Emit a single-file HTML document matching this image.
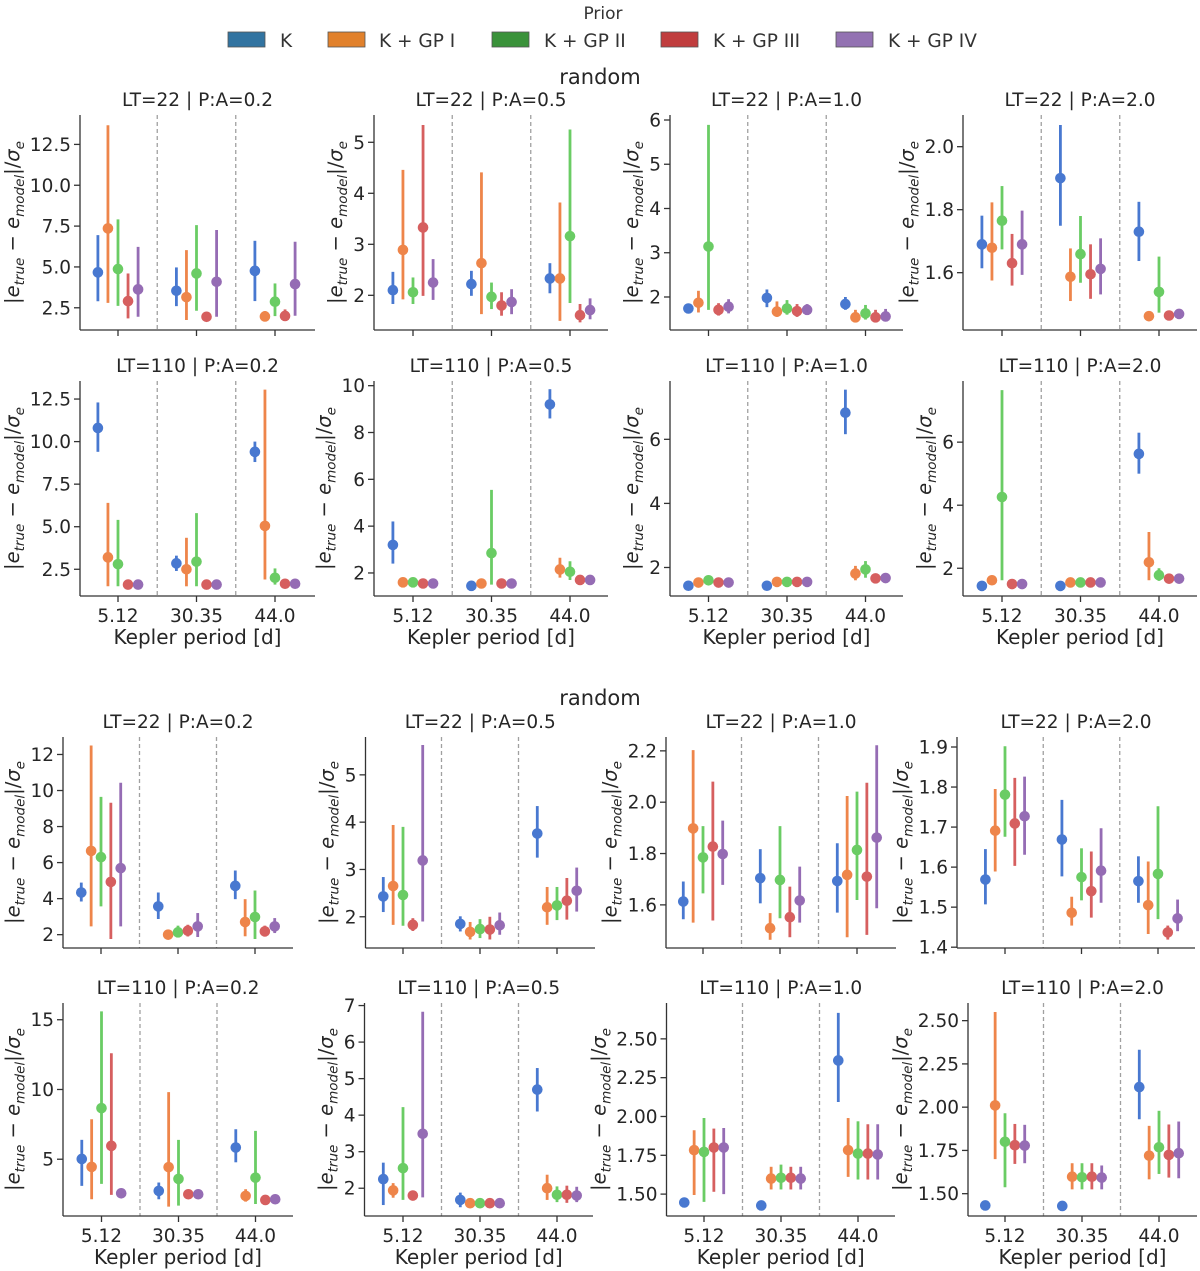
<!DOCTYPE html>
<html><head><meta charset="utf-8"><title>Eccentricity error by Kepler period</title>
<style>
html,body{margin:0;padding:0;background:#fff;}
svg{display:block;font-family:"DejaVu Sans","Liberation Sans",sans-serif;}
</style></head>
<body>
<svg id="fig" width="1200" height="1271" viewBox="0 0 1200 1271" xmlns="http://www.w3.org/2000/svg">
  <g>
    <text x="603" y="19" font-size="17" fill="#333" text-anchor="middle">Prior</text>
    <rect x="228" y="32" width="37" height="15" fill="#3274a1" stroke="#555" stroke-width="0.8"/>
    <text x="280" y="47" font-size="18.5" fill="#333">K</text>
    <rect x="328" y="32" width="37" height="15" fill="#e1812c" stroke="#555" stroke-width="0.8"/>
    <text x="379" y="47" font-size="18.5" fill="#333">K + GP I</text>
    <rect x="492" y="32" width="37" height="15" fill="#3a923a" stroke="#555" stroke-width="0.8"/>
    <text x="544" y="47" font-size="18.5" fill="#333">K + GP II</text>
    <rect x="661" y="32" width="37" height="15" fill="#c03d3e" stroke="#555" stroke-width="0.8"/>
    <text x="713" y="47" font-size="18.5" fill="#333">K + GP III</text>
    <rect x="836" y="32" width="37" height="15" fill="#9372b2" stroke="#555" stroke-width="0.8"/>
    <text x="888" y="47" font-size="18.5" fill="#333">K + GP IV</text>
  </g>
  <text x="600" y="84" font-size="21" fill="#262626" text-anchor="middle">random</text>
  <text x="600" y="705" font-size="21" fill="#262626" text-anchor="middle">random</text>
  <g id="plots"></g>
</svg>
<script>
// ---------- data (series order: K, K+GP I, K+GP II, K+GP III, K+GP IV; categories: 5.12, 30.35, 44.0) ----------
const categories = ["5.12", "30.35", "44.0"];
const seriesNames = ["K", "K + GP I", "K + GP II", "K + GP III", "K + GP IV"];

const a1_mean = [[4.67,3.54,4.76],[7.36,3.15,1.97],[4.87,4.6,2.87],[2.91,1.95,2.0],[3.63,4.09,3.95]];
const a1_lo   = [[2.9,2.6,2.91],[2.8,1.75,1.7],[2.62,2.32,1.99],[1.85,1.8,1.7],[1.95,1.95,2.01]];
const a1_hi   = [[6.95,4.97,6.6],[13.67,6.03,2.3],[7.91,7.56,3.99],[4.6,2.1,2.4],[6.23,7.26,6.54]];
const a1_ticks = [2.5,5,7.5,10,12.5];

const a2_mean = [[2.10,2.22,2.33],[2.89,2.63,2.33],[2.06,1.97,3.16],[3.33,1.80,1.61],[2.25,1.87,1.71]];
const a2_lo   = [[1.83,1.99,2.04],[1.92,1.63,1.5],[1.83,1.73,1.85],[1.99,1.6,1.47],[1.91,1.63,1.53]];
const a2_hi   = [[2.46,2.48,2.63],[4.46,4.41,3.82],[2.35,2.25,5.25],[5.34,2.06,1.83],[2.71,2.12,1.94]];
const a2_ticks = [2,3,4,5];

const a3_mean = [[1.74,1.98,1.84],[1.87,1.67,1.54],[3.14,1.74,1.63],[1.71,1.68,1.54],[1.78,1.71,1.56]];
const a3_lo   = [[1.66,1.77,1.71],[1.65,1.55,1.45],[1.71,1.6,1.49],[1.58,1.55,1.45],[1.63,1.6,1.45]];
const a3_hi   = [[1.85,2.17,2.0],[2.14,1.9,1.71],[5.89,1.93,1.82],[1.86,1.84,1.71],[1.95,1.84,1.73]];
const a3_ticks = [2,3,4,5,6];

const a4_mean = [[1.69,1.9,1.73],[1.679,1.587,1.462],[1.765,1.659,1.539],[1.63,1.595,1.464],[1.69,1.612,1.469]];
const a4_lo   = [[1.614,1.749,1.637],[1.575,1.51,1.45],[1.674,1.568,1.473],[1.559,1.517,1.45],[1.593,1.531,1.455]];
const a4_hi   = [[1.781,2.069,1.825],[1.823,1.677,1.475],[1.875,1.78,1.651],[1.723,1.69,1.478],[1.797,1.709,1.484]];
const a4_ticks = [1.6,1.8,2.0];

const b1_mean = [[10.8,2.85,9.4],[3.2,2.5,5.05],[2.8,2.95,2.0],[1.6,1.6,1.65],[1.6,1.6,1.65]];
const b1_lo   = [[9.4,2.4,8.8],[1.5,1.5,1.9],[1.5,1.5,1.6],[1.55,1.55,1.6],[1.55,1.55,1.6]];
const b1_hi   = [[12.3,3.3,10.0],[6.4,4.35,13.05],[5.4,5.8,2.55],[1.65,1.65,1.7],[1.65,1.65,1.7]];
const b1_ticks = [2.5,5,7.5,10,12.5];

const b2_mean = [[3.2,1.45,9.2],[1.6,1.55,2.15],[1.6,2.85,2.05],[1.55,1.55,1.7],[1.55,1.55,1.7]];
const b2_lo   = [[2.4,1.4,8.6],[1.55,1.5,1.8],[1.55,1.5,1.7],[1.5,1.5,1.65],[1.5,1.5,1.65]];
const b2_hi   = [[4.2,1.5,9.85],[1.65,1.6,2.65],[1.65,5.55,2.5],[1.6,1.6,1.75],[1.6,1.6,1.75]];
const b2_ticks = [2,4,6,8,10];

const b3_mean = [[1.43,1.43,6.83],[1.53,1.55,1.81],[1.60,1.55,1.94],[1.53,1.55,1.66],[1.53,1.55,1.67]];
const b3_lo   = [[1.4,1.4,6.16],[1.48,1.5,1.6],[1.45,1.5,1.68],[1.48,1.5,1.62],[1.48,1.5,1.62]];
const b3_hi   = [[1.46,1.46,7.55],[1.58,1.6,2.05],[1.71,1.6,2.2],[1.58,1.6,1.7],[1.58,1.6,1.72]];
const b3_ticks = [2,4,6];

const b4_mean = [[1.44,1.44,5.63],[1.62,1.55,2.19],[4.26,1.55,1.78],[1.5,1.55,1.67],[1.5,1.55,1.67]];
const b4_lo   = [[1.4,1.4,5.0],[1.5,1.5,1.62],[1.62,1.5,1.6],[1.46,1.5,1.62],[1.46,1.5,1.62]];
const b4_hi   = [[1.48,1.48,6.3],[1.74,1.6,3.15],[7.65,1.6,2.0],[1.54,1.6,1.72],[1.54,1.6,1.72]];
const b4_ticks = [2,4,6];

const c1_mean = [[4.34,3.57,4.71],[6.65,2.0,2.7],[6.3,2.13,2.98],[4.93,2.22,2.18],[5.69,2.46,2.46]];
const c1_lo   = [[3.84,2.87,3.97],[2.46,1.76,1.91],[3.57,1.85,1.76],[1.76,1.9,1.9],[2.46,1.87,2.09]];
const c1_hi   = [[4.89,4.34,5.56],[12.5,2.28,3.97],[9.65,2.5,4.45],[9.32,2.55,2.5],[10.43,3.2,2.92]];
const c1_ticks = [2,4,6,8,10,12];

const c2_mean = [[2.43,1.85,3.76],[2.65,1.68,2.2],[2.46,1.74,2.24],[1.83,1.73,2.34],[3.19,1.82,2.55]];
const c2_lo   = [[2.1,1.69,3.25],[1.83,1.52,1.83],[1.81,1.55,1.93],[1.7,1.52,1.94],[1.9,1.62,2.11]];
const c2_hi   = [[2.84,2.01,4.34],[3.94,1.89,2.63],[3.9,1.95,2.63],[1.97,2.0,2.82],[5.63,2.09,3.04]];
const c2_ticks = [2,3,4,5];

const c3_mean = [[1.613,1.704,1.693],[1.898,1.509,1.717],[1.785,1.697,1.814],[1.827,1.552,1.71],[1.798,1.617,1.862]];
const c3_lo   = [[1.544,1.606,1.57],[1.531,1.464,1.474],[1.645,1.548,1.619],[1.539,1.474,1.483],[1.678,1.531,1.587]];
const c3_hi   = [[1.691,1.817,1.84],[2.203,1.568,2.024],[1.907,1.907,2.041],[2.08,1.671,2.076],[1.928,1.749,2.222]];
const c3_ticks = [1.6,1.8,2.0,2.2];

const c4_mean = [[1.569,1.669,1.565],[1.691,1.486,1.505],[1.781,1.575,1.583],[1.709,1.54,1.437],[1.727,1.591,1.472]];
const c4_lo   = [[1.507,1.577,1.511],[1.589,1.454,1.433],[1.676,1.517,1.47],[1.603,1.474,1.419],[1.631,1.511,1.44]];
const c4_hi   = [[1.645,1.768,1.627],[1.795,1.526,1.614],[1.902,1.647,1.752],[1.823,1.639,1.454],[1.826,1.697,1.519]];
const c4_ticks = [1.4,1.5,1.6,1.7,1.8,1.9];

const d1_mean = [[5.02,2.73,5.84],[4.45,4.43,2.37],[8.66,3.59,3.68],[5.96,2.49,2.08],[2.56,2.49,2.13]];
const d1_lo   = [[3.09,2.13,4.78],[2.13,1.6,1.96],[3.23,1.67,1.79],[2.44,2.3,1.8],[2.4,2.3,1.9]];
const d1_hi   = [[6.39,3.33,7.15],[7.87,9.81,2.85],[15.6,6.39,7.03],[12.6,2.7,2.4],[2.7,2.7,2.4]];
const d1_ticks = [5,10,15];

const d2_mean = [[2.25,1.68,4.7],[1.94,1.59,2.0],[2.55,1.59,1.82],[1.8,1.59,1.82],[3.49,1.59,1.8]];
const d2_lo   = [[1.54,1.48,4.1],[1.74,1.54,1.68],[1.68,1.54,1.62],[1.68,1.54,1.6],[1.75,1.54,1.62]];
const d2_hi   = [[2.7,1.88,5.29],[2.14,1.64,2.37],[4.22,1.64,2.05],[1.92,1.64,2.07],[6.83,1.64,2.04]];
const d2_ticks = [2,3,4,5,6,7];

const d3_mean = [[1.446,1.427,2.361],[1.783,1.6,1.783],[1.772,1.605,1.761],[1.80,1.605,1.761],[1.80,1.6,1.755]];
const d3_lo   = [[1.42,1.41,2.093],[1.494,1.53,1.611],[1.45,1.53,1.594],[1.515,1.53,1.594],[1.5,1.53,1.594]];
const d3_hi   = [[1.47,1.445,2.667],[1.911,1.676,1.99],[1.99,1.69,1.969],[1.922,1.676,1.95],[1.926,1.676,1.95]];
const d3_ticks = [1.5,1.75,2.0,2.25,2.5];

const d4_mean = [[1.432,1.429,2.116],[2.01,1.598,1.72],[1.80,1.595,1.768],[1.78,1.598,1.724],[1.778,1.593,1.734]];
const d4_lo   = [[1.42,1.42,1.93],[1.70,1.525,1.583],[1.537,1.525,1.614],[1.672,1.525,1.593],[1.676,1.525,1.589]];
const d4_hi   = [[1.445,1.44,2.332],[2.55,1.676,1.892],[1.965,1.676,1.979],[1.903,1.676,1.9],[1.898,1.663,1.917]];
const d4_ticks = [1.5,1.75,2.0,2.25,2.5];

const panelTitles = ["LT=22 | P:A=0.2","LT=22 | P:A=0.5","LT=22 | P:A=1.0","LT=22 | P:A=2.0",
                     "LT=110 | P:A=0.2","LT=110 | P:A=0.5","LT=110 | P:A=1.0","LT=110 | P:A=2.0"];

// ---------- layout (pixels, not data) ----------
const markerColors = ["#4878d0","#ee854a","#6acc64","#d65f5f","#956cb4"];
const NS = "http://www.w3.org/2000/svg";
const root = document.getElementById("plots");

const panels = [
  {id:"a1",m:a1_mean,lo:a1_lo,hi:a1_hi,t:a1_ticks,dec:1,dom:[1.14,14.3],L:80,c0:118,R:315,st:78.5,T:115,B:330,title:0,xl:false},
  {id:"a2",m:a2_mean,lo:a2_lo,hi:a2_hi,t:a2_ticks,dec:0,dom:[1.32,5.535],L:374,c0:413,R:608,st:78.5,T:115,B:330,title:1,xl:false},
  {id:"a3",m:a3_mean,lo:a3_lo,hi:a3_hi,t:a3_ticks,dec:0,dom:[1.254,6.113],L:670,c0:708.5,R:903,st:78.5,T:115,B:330,title:2,xl:false},
  {id:"a4",m:a4_mean,lo:a4_lo,hi:a4_hi,t:a4_ticks,dec:1,dom:[1.418,2.1006],L:963,c0:1002,R:1197,st:78.5,T:115,B:330,title:3,xl:false},
  {id:"b1",m:b1_mean,lo:b1_lo,hi:b1_hi,t:b1_ticks,dec:1,dom:[0.93,13.56],L:80,c0:118,R:315,st:78.5,T:381,B:596,title:4,xl:true},
  {id:"b2",m:b2_mean,lo:b2_lo,hi:b2_hi,t:b2_ticks,dec:0,dom:[1.016,10.2],L:374,c0:413,R:608,st:78.5,T:381,B:596,title:5,xl:true},
  {id:"b3",m:b3_mean,lo:b3_lo,hi:b3_hi,t:b3_ticks,dec:0,dom:[1.11,7.82],L:670,c0:708.5,R:903,st:78.5,T:381,B:596,title:6,xl:true},
  {id:"b4",m:b4_mean,lo:b4_lo,hi:b4_hi,t:b4_ticks,dec:0,dom:[1.12,7.94],L:963,c0:1002,R:1197,st:78.5,T:381,B:596,title:7,xl:true},
  {id:"c1",m:c1_mean,lo:c1_lo,hi:c1_hi,t:c1_ticks,dec:0,dom:[1.26,12.97],L:63,c0:101,R:293,st:77,T:737,B:948,title:0,xl:false},
  {id:"c2",m:c2_mean,lo:c2_lo,hi:c2_hi,t:c2_ticks,dec:0,dom:[1.34,5.8],L:365.5,c0:403,R:595,st:77,T:737,B:948,title:1,xl:false},
  {id:"c3",m:c3_mean,lo:c3_lo,hi:c3_hi,t:c3_ticks,dec:1,dom:[1.432,2.254],L:666,c0:703,R:896,st:77,T:737,B:948,title:2,xl:false},
  {id:"c4",m:c4_mean,lo:c4_lo,hi:c4_hi,t:c4_ticks,dec:1,dom:[1.398,1.925],L:957,c0:1005,R:1195,st:76.5,T:737,B:948,title:3,xl:false},
  {id:"d1",m:d1_mean,lo:d1_lo,hi:d1_hi,t:d1_ticks,dec:0,dom:[0.93,16.2],L:63,c0:101.5,R:293,st:77,T:1003,B:1216,title:4,xl:true},
  {id:"d2",m:d2_mean,lo:d2_lo,hi:d2_hi,t:d2_ticks,dec:0,dom:[1.24,7.07],L:364.5,c0:403,R:593,st:77,T:1003,B:1216,title:5,xl:true},
  {id:"d3",m:d3_mean,lo:d3_lo,hi:d3_hi,t:d3_ticks,dec:2,dom:[1.359,2.731],L:666.5,c0:704,R:895,st:77,T:1003,B:1216,title:6,xl:true},
  {id:"d4",m:d4_mean,lo:d4_lo,hi:d4_hi,t:d4_ticks,dec:2,dom:[1.371,2.602],L:968,c0:1005,R:1197,st:77,T:1003,B:1216,title:7,xl:true}
];

function mk(tag, attrs, parent){
  const e = document.createElementNS(NS, tag);
  for (const k in attrs) e.setAttribute(k, attrs[k]);
  parent.appendChild(e);
  return e;
}

panels.forEach(function(p){
  const g = mk("g", {}, root);
  
  
  const yScale = function(v){ return p.B - (v - p.dom[0]) / (p.dom[1] - p.dom[0]) * (p.B - p.T); };
  const xScale = function(ci, si){ return p.c0 + ci * p.st + (si - 2) * p.st * 0.128; };

  const tt = mk("text", {x:(p.L+p.R)/2, y:p.T-9, "font-size":18.5, fill:"#262626", "text-anchor":"middle"}, g);
  tt.textContent = panelTitles[p.title];
  
  

  for (let i = 0; i < categories.length - 1; i++){
    const dx = p.c0 + (i + 0.5) * p.st;
    const dl = mk("line", {x1:dx, x2:dx, y1:p.T, y2:p.B, stroke:"#a0a0a0", "stroke-width":1.3, "stroke-dasharray":"4,3"}, g);
    
    
  }

  for (let s = 0; s < seriesNames.length; s++){
    for (let c = 0; c < categories.length; c++){
      const x = xScale(c, s);
      const eb = mk("line", {x1:x, x2:x, y1:yScale(p.lo[s][c]), y2:yScale(p.hi[s][c]), stroke:markerColors[s], "stroke-width":2.8}, g);
      
      
    }
  }
  for (let s = 0; s < seriesNames.length; s++){
    for (let c = 0; c < categories.length; c++){
      const pt = mk("circle", {cx:xScale(c, s), cy:yScale(p.m[s][c]), r:5.3, fill:markerColors[s]}, g);
      
      
    }
  }

  const sl = mk("line", {x1:p.L, x2:p.L, y1:p.T, y2:p.B, stroke:"#333", "stroke-width":1.3}, g);
  
  
  const sb = mk("line", {x1:p.L, x2:p.R, y1:p.B, y2:p.B, stroke:"#333", "stroke-width":1.3}, g);
  
  

  let maxW = 0;
  p.t.forEach(function(v){
    const y = yScale(v);
    const tk = mk("line", {x1:p.L-6, x2:p.L, y1:y, y2:y, stroke:"#333", "stroke-width":1.3}, g);
    
    
    const tl = mk("text", {x:p.L-9, y:y+6.5, "font-size":18.5, fill:"#262626", "text-anchor":"end"}, g);
    tl.textContent = v.toFixed(p.dec);
    
    
    try { maxW = Math.max(maxW, tl.getBBox().width); } catch(e) { maxW = Math.max(maxW, tl.textContent.length * 11); }
  });

  categories.forEach(function(cat, ci){
    const x = p.c0 + ci * p.st;
    const tk = mk("line", {x1:x, x2:x, y1:p.B, y2:p.B+6, stroke:"#333", "stroke-width":1.3}, g);
    
    
    if (p.xl){
      const tl = mk("text", {x:x, y:p.B+26, "font-size":18.5, fill:"#262626", "text-anchor":"middle"}, g);
      tl.textContent = cat;
      
      
    }
  });
  if (p.xl){
    const xl = mk("text", {x:(p.L+p.R)/2, y:p.B+48, "font-size":20, fill:"#262626", "text-anchor":"middle"}, g);
    xl.textContent = "Kepler period [d]";
    
    
  }

  const lx = p.L - 9 - maxW - 11;
  const ly = (p.T + p.B) / 2;
  const yl = mk("text", {x:0, y:0, "font-size":19.5, fill:"#262626", "text-anchor":"middle", transform:"translate(" + lx + "," + ly + ") rotate(-90)"}, g);
  
  
  yl.innerHTML = '|<tspan font-style="italic">e</tspan><tspan font-size="13.5" font-style="italic" dy="5">true</tspan><tspan dy="-5"> − </tspan><tspan font-style="italic">e</tspan><tspan font-size="13.5" font-style="italic" dy="5">model</tspan><tspan dy="-5">|/</tspan><tspan font-style="italic">σ</tspan><tspan font-size="13.5" font-style="italic" dy="5">e</tspan>';
});
</script>
</body></html>
